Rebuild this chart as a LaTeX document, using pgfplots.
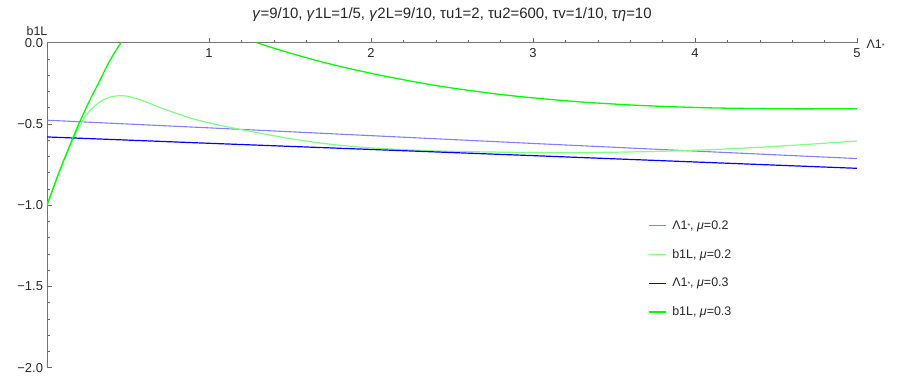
\documentclass[border=0pt]{standalone}
\usepackage{fontspec}
\setmainfont{Liberation Sans}
\usepackage{pgfplots}
\pgfplotsset{compat=1.18}
\definecolor{lblue}{rgb}{0.5,0.5,1}
\definecolor{lgreen}{rgb}{0.5,1,0.5}
\definecolor{dblue}{rgb}{0,0,1}
\definecolor{dgreen}{rgb}{0,1,0}
\begin{document}
\begin{tikzpicture}
\begin{axis}[
  scale only axis, width=810bp, height=325bp,
  xmin=0, xmax=5, ymin=-2, ymax=0,
  axis lines=middle,
  axis line style={-, draw=black!55, line width=0.9bp},
  hide obscured x ticks=false, hide obscured y ticks=false,
  xtick={1,2,3,4,5}, xticklabels={1,2,3,4,5},
  ytick={-2,-1.5,-1,-0.5,0}, yticklabels={−2.0,−1.5,−1.0,−0.5,0.0},
  minor x tick num=4, minor y tick num=4,
  tick style={draw=black!60, line width=0.6bp},
  major tick length=5bp, minor tick length=3bp,
  tick align=inside,
  ticklabel style={font=\fontsize{13}{15}\selectfont, text=black!85},
  xticklabel style={yshift=-2.5bp},
  yticklabel style={xshift=-0.5bp},
  title={\textit{γ}=9/10, \textit{γ}1L=1/5, \textit{γ}2L=9/10, τu1=2, τu2=600, τv=1/10, τ\textit{η}=10},
  title style={at={(rel axis cs:0.5,1)}, anchor=center, yshift=22bp, font=\fontsize{15}{17}\selectfont, text=black!85},
  ylabel={b1L},
  ylabel style={at={(rel axis cs:0,1)}, anchor=center, rotate=0, xshift=-10bp, yshift=12bp, font=\fontsize{12.5}{14}\selectfont, text=black!85},
  xlabel={Λ1{\raisebox{0.5bp}{\scriptsize *}}},
  xlabel style={at={(rel axis cs:1,1)}, anchor=west, xshift=6bp, yshift=-2bp, font=\fontsize{12.5}{14}\selectfont, text=black!85},
  legend style={at={(rel axis cs:0.738,0.466)}, anchor=north west, draw=none, fill=none,
    font=\fontsize{12.5}{14}\selectfont, text=black!85, row sep=14.5bp,
    /tikz/every odd column/.append style={column sep=4bp}},
  legend cell align=left,
]
\addplot[lblue, line width=1.1bp] coordinates {
  (0,-0.477) (1,-0.524) (2,-0.572) (3,-0.620) (4,-0.667) (5,-0.713)};
\addlegendentry{Λ1{\raisebox{0.5bp}{\scriptsize *}}, \textit{μ}=0.2}
\addplot[lgreen, line width=1.2bp, smooth] coordinates {
  (0,-1) (0.04,-0.89) (0.08,-0.785) (0.12,-0.688) (0.163,-0.59) (0.2,-0.515)
  (0.25,-0.435) (0.3,-0.385) (0.35,-0.35) (0.4,-0.332) (0.45,-0.326) (0.5,-0.33)
  (0.6,-0.36) (0.7,-0.40) (0.8,-0.435) (0.9,-0.468) (1.0,-0.493) (1.1,-0.515)
  (1.2,-0.535) (1.5,-0.59) (1.75,-0.625) (2.0,-0.647) (2.4,-0.666) (3.0,-0.676)
  (3.5,-0.674) (4.0,-0.662) (4.5,-0.638) (5.0,-0.605)};
\addlegendentry{b1L, \textit{μ}=0.2}
\addplot[dblue, line width=1.2bp] coordinates {
  (0,-0.580) (1,-0.619) (2,-0.657) (3,-0.695) (4,-0.734) (5,-0.773)};
\addlegendentry{Λ1{\raisebox{0.5bp}{\scriptsize *}}, \textit{μ}=0.3}
\addplot[dgreen, line width=1.3bp, smooth] coordinates {
  (0,-1) (0.04,-0.89) (0.08,-0.783) (0.12,-0.683) (0.163,-0.578) (0.21,-0.47)
  (0.265,-0.352) (0.32,-0.245) (0.368,-0.148) (0.41,-0.072) (0.457,0)};
\addlegendentry{b1L, \textit{μ}=0.3}
\addplot[dgreen, line width=1.3bp, smooth, forget plot] coordinates {
  (1.294,0) (1.46,-0.052) (1.665,-0.11) (1.87,-0.16) (2.076,-0.204) (2.282,-0.243)
  (2.488,-0.277) (2.838,-0.323) (3.249,-0.361) (3.66,-0.386) (4.093,-0.401)
  (4.586,-0.407) (5,-0.406)};
\end{axis}
\pgfresetboundingbox
\path[use as bounding box] (-47bp,-13.3bp) rectangle (854bp,367.7bp);
\end{tikzpicture}
\end{document}
